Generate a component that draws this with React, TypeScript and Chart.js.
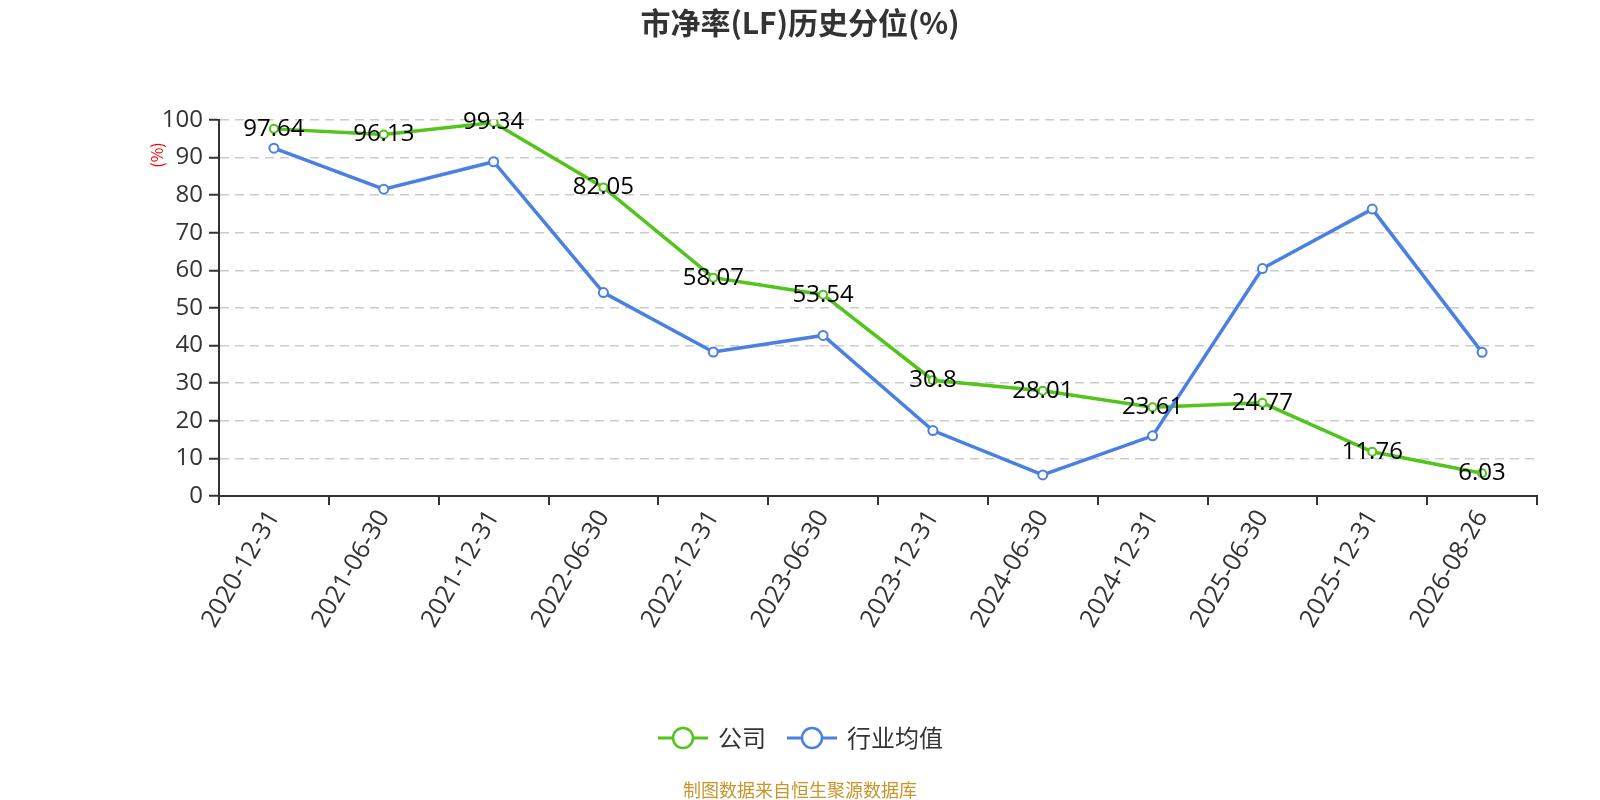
import React, { useEffect, useRef } from "react";
import { Chart, registerables } from "chart.js";

Chart.register(...registerables);

const categories = [
  "2020-12-31", "2021-06-30", "2021-12-31", "2022-06-30", "2022-12-31", "2023-06-30",
  "2023-12-31", "2024-06-30", "2024-12-31", "2025-06-30", "2025-12-31", "2026-08-26",
];
const companyValues = [97.64, 96.13, 99.34, 82.05, 58.07, 53.54, 30.8, 28.01, 23.61, 24.77, 11.76, 6.03];
const industryValues = [92.5, 81.6, 88.9, 54.1, 38.3, 42.7, 17.4, 5.6, 16.0, 60.5, 76.3, 38.2];
const seriesNames = ["公司", "行业均值"];
const titleText = "市净率(LF)历史分位(%)";
const yAxisName = "(%)";
const footerText = "制图数据来自恒生聚源数据库";

const GREEN = "#52c41a";
const BLUE = "#4a80e3";
const FONT = "'Noto Sans CJK SC', 'Noto Sans', sans-serif";
const NUM_FONT = "'Open Sans', 'Noto Sans CJK SC', sans-serif";

const overlay = {
  id: "overlay",
  afterDatasetsDraw(chart: any) {
    const ctx = chart.ctx;
    const meta = chart.getDatasetMeta(0);
    ctx.save();
    ctx.font = `24px ${NUM_FONT}`;
    ctx.fillStyle = "#000";
    ctx.textAlign = "center";
    ctx.textBaseline = "middle";
    meta.data.forEach((pt: any, i: number) => {
      ctx.fillText(String(companyValues[i]), pt.x, pt.y);
    });
    ctx.restore();
  },
  afterDraw(chart: any) {
    const ctx = chart.ctx;
    ctx.save();
    // title
    ctx.font = `bold 30px ${FONT}`;
    ctx.fillStyle = "#333";
    ctx.textAlign = "center";
    ctx.textBaseline = "middle";
    ctx.fillText(titleText, 800, 23);
    // y-axis name
    ctx.save();
    ctx.translate(157, 155);
    ctx.rotate(-Math.PI / 2);
    ctx.font = `16px ${FONT}`;
    ctx.fillStyle = "#ff0000";
    ctx.fillText(yAxisName, 0, 0);
    ctx.restore();
    // legend
    const items = [
      { x: 658, color: GREEN, name: seriesNames[0] },
      { x: 787, color: BLUE, name: seriesNames[1] },
    ];
    const ly = 738;
    items.forEach((it) => {
      ctx.strokeStyle = it.color;
      ctx.lineWidth = 3;
      ctx.beginPath();
      ctx.moveTo(it.x, ly);
      ctx.lineTo(it.x + 50, ly);
      ctx.stroke();
      ctx.beginPath();
      ctx.arc(it.x + 25, ly, 10, 0, Math.PI * 2);
      ctx.fillStyle = "#fff";
      ctx.fill();
      ctx.lineWidth = 2.5;
      ctx.stroke();
      ctx.font = `24px ${FONT}`;
      ctx.fillStyle = "#333";
      ctx.textAlign = "left";
      ctx.textBaseline = "middle";
      ctx.fillText(it.name, it.x + 60, ly);
    });
    // footer
    ctx.font = `18px ${FONT}`;
    ctx.fillStyle = "#c9952b";
    ctx.textAlign = "center";
    ctx.textBaseline = "middle";
    ctx.fillText(footerText, 800, 790);
    ctx.restore();
  },
};

export default function App() {
  const ref = useRef<HTMLCanvasElement | null>(null);
  useEffect(() => {
    document.body.style.margin = "0";
    if (!ref.current) return;
    const chart = new Chart(ref.current, {
      type: "line",
      data: {
        labels: categories,
        datasets: [
          {
            label: seriesNames[0],
            data: companyValues,
            borderColor: GREEN,
            backgroundColor: GREEN,
            borderWidth: 3.5,
            pointRadius: 4,
            pointBorderWidth: 2,
            pointBackgroundColor: "#fff",
            pointBorderColor: GREEN,
            tension: 0,
            order: 1,
          },
          {
            label: seriesNames[1],
            data: industryValues,
            borderColor: BLUE,
            backgroundColor: BLUE,
            borderWidth: 3.5,
            pointRadius: 4.5,
            pointBorderWidth: 2,
            pointBackgroundColor: "#fff",
            pointBorderColor: BLUE,
            tension: 0,
            order: 0,
          },
        ],
      },
      options: {
        responsive: false,
        animation: false,
        devicePixelRatio: 1,
        layout: { padding: { left: 139, right: 63, top: 120, bottom: 104 } },
        plugins: {
          legend: { display: false },
          title: { display: false },
          tooltip: { enabled: false },
        },
        scales: {
          x: {
            type: "category",
            offset: true,
            grid: {
              display: true,
              drawOnChartArea: false,
              drawTicks: true,
              tickLength: 9,
              offset: true,
              color: "#333",
              lineWidth: 2,
            },
            border: { display: true, color: "#333", width: 2 },
            ticks: {
              color: "#333",
              font: { size: 25, family: NUM_FONT },
              maxRotation: 60,
              minRotation: 60,
              autoSkip: false,
              padding: 0,
            },
            afterFit(s: any) {
              s.height = 200;
            },
          },
          y: {
            min: 0,
            max: 100,
            ticks: {
              stepSize: 10,
              color: "#333",
              font: { size: 24, family: NUM_FONT },
              padding: 6,
            },
            grid: {
              color: "#cccccc",
              lineWidth: 1.5,
              tickLength: 10,
              tickColor: "#333",
              tickWidth: 2,
              tickBorderDash: [],
            },
            border: { display: true, color: "#333", width: 2, dash: [9, 6] },
            afterFit(s: any) {
              s.width = 80;
            },
          },
        },
      },
      plugins: [overlay],
    } as any);
    return () => chart.destroy();
  }, []);
  return (
    <div style={{ width: 1600, height: 800 }}>
      <canvas ref={ref} width={1600} height={800} style={{ display: "block", width: 1600, height: 800 }} />
    </div>
  );
}
